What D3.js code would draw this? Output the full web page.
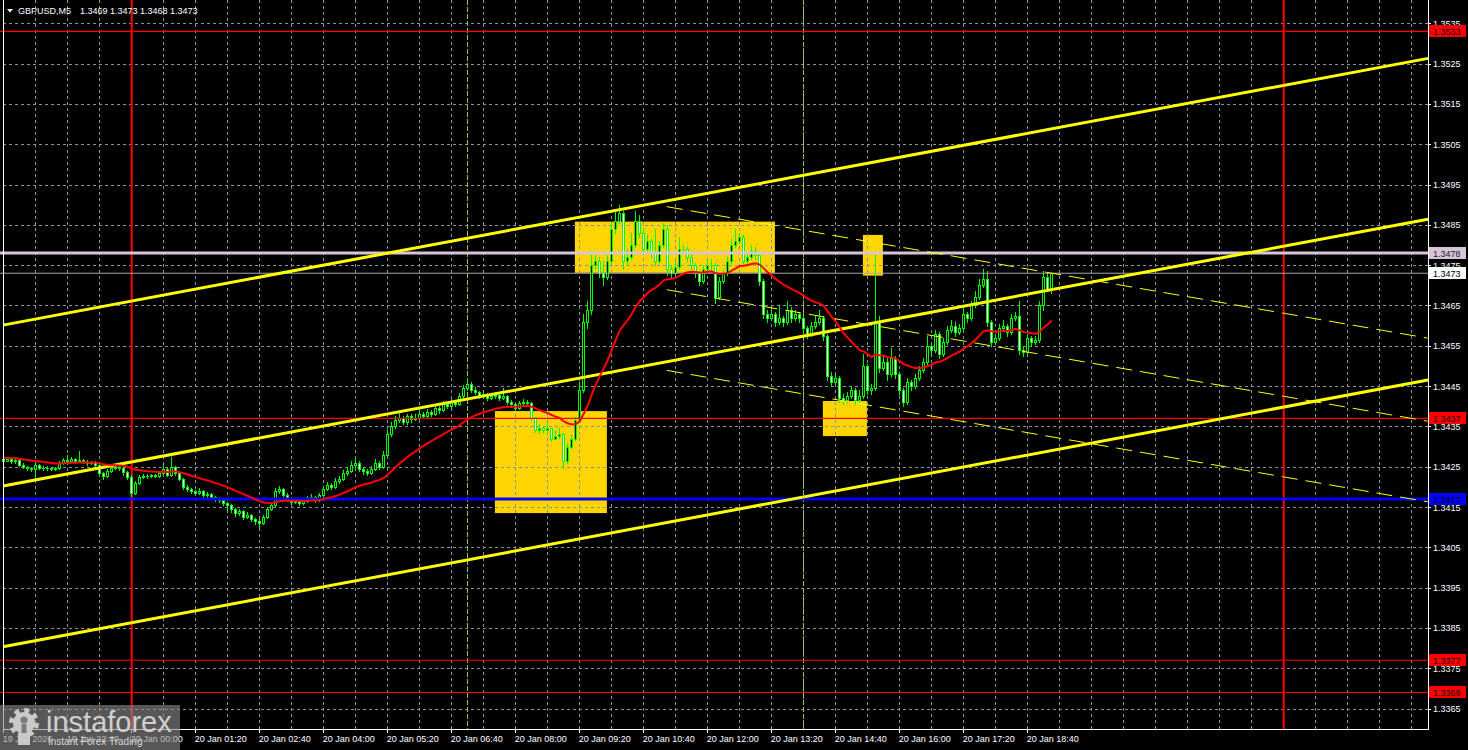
<!DOCTYPE html>
<html><head><meta charset="utf-8">
<script src="https://cdn.jsdelivr.net/npm/d3@7"></script>
<style>html,body{margin:0;padding:0;background:#000;overflow:hidden}svg{display:block}</style>
</head><body>
<svg id="chart" width="1468" height="750"></svg>
<script>
// ---------------- DATA ----------------
const symbolTitle = "GBPUSD,M5";
const titleValues = "1.3469 1.3473 1.3468 1.3473";
const firstBarMinute = -160;   // 19 Jan 21:20, minutes relative to 20 Jan 00:00
const barMinutes = 5;
const firstOpen = 1.34268;
const closes = [
1.34265,1.34268,1.34263,1.34266,1.34255,1.34250,1.34247,1.34245,1.34254,1.34248,1.34246,1.34247,1.34245,1.34246,1.34258,1.34266,1.34264,1.34269,1.34263,1.34267,1.34262,1.34259,1.34261,1.34255,1.34235,1.34228,1.34240,1.34248,1.34250,1.34246,1.34238,1.34225,
1.34185,1.34210,1.34225,1.34228,1.34226,1.34229,1.34227,1.34235,1.34245,1.34230,
1.34250,1.34235,1.34220,1.34200,1.34195,1.34190,1.34185,1.34190,1.34180,1.34183,
1.34175,1.34170,1.34168,1.34160,1.34155,1.34145,1.34135,1.34140,1.34125,1.34130,
1.34120,1.34115,1.34110,1.34125,1.34145,1.34155,1.34190,1.34195,1.34180,1.34170,
1.34162,1.34165,1.34160,1.34165,1.34170,1.34175,1.34168,1.34180,1.34195,1.34205,
1.34200,1.34215,1.34220,1.34235,1.34240,1.34255,1.34260,1.34245,1.34240,1.34235,
1.34245,1.34260,1.34250,1.34280,1.34330,1.34350,1.34365,1.34370,1.34360,1.34375,
1.34368,1.34372,1.34380,1.34375,1.34385,1.34380,1.34395,1.34390,1.34405,1.34400,
1.34410,1.34405,1.34425,1.34445,1.34455,1.34440,1.34435,1.34425,1.34430,1.34420,
1.34425,1.34428,1.34420,1.34425,1.34410,1.34405,1.34395,1.34408,1.34410,1.34407,
1.34370,1.34340,1.34345,1.34340,1.34345,1.34320,1.34325,1.34330,1.34265,1.34300,
1.34320,1.34365,1.34440,1.34610,1.34640,1.34750,1.34760,1.34730,1.34720,1.34760,
1.34840,1.34860,1.34880,1.34760,1.34770,1.34800,1.34860,1.34830,1.34790,1.34810,
1.34780,1.34760,1.34800,1.34840,1.34740,1.34730,1.34745,1.34790,1.34790,1.34770,
1.34750,1.34730,1.34710,1.34740,1.34750,1.34750,1.34670,1.34710,1.34730,1.34760,
1.34800,1.34810,1.34820,1.34760,1.34770,1.34785,1.34775,1.34710,1.34630,1.34620,
1.34630,1.34610,1.34620,1.34610,1.34640,1.34620,1.34630,1.34620,1.34595,1.34580,
1.34600,1.34610,1.34620,1.34575,1.34475,1.34460,1.34470,1.34420,1.34415,1.34425,
1.34440,1.34415,1.34425,1.34500,1.34440,1.34445,1.34610,1.34495,1.34510,1.34480,
1.34520,1.34480,1.34440,1.34410,1.34460,1.34450,1.34470,1.34490,1.34510,1.34550,
1.34540,1.34580,1.34530,1.34560,1.34590,1.34600,1.34585,1.34595,1.34630,1.34620,
1.34650,1.34670,1.34700,1.34715,1.34610,1.34560,1.34570,1.34595,1.34600,1.34585,
1.34620,1.34625,1.34540,1.34535,1.34570,1.34560,1.34565,1.34650,1.34720,1.34690,
1.34730];
const highs = [
1.34273,1.34275,1.34270,1.34272,1.34268,1.34258,1.34253,1.34250,1.34259,1.34256,1.34252,1.34251,1.34250,1.34250,1.34263,1.34272,1.34280,1.34275,1.34272,1.34290,1.34270,1.34266,1.34265,1.34264,1.34258,1.34238,1.34245,1.34253,1.34256,1.34253,1.34249,1.34240,
1.34230,1.34215,1.34230,1.34232,1.34231,1.34233,1.34232,1.34240,1.34258,1.34248,
1.34275,1.34253,1.34238,1.34223,1.34205,1.34198,1.34193,1.34196,1.34192,1.34188,
1.34186,1.34178,1.34174,1.34170,1.34163,1.34158,1.34148,1.34146,1.34142,1.34138,
1.34133,1.34124,1.34120,1.34130,1.34150,1.34162,1.34198,1.34203,1.34198,1.34184,
1.34175,1.34173,1.34170,1.34172,1.34178,1.34183,1.34178,1.34186,1.34202,1.34213,
1.34210,1.34222,1.34228,1.34243,1.34250,1.34263,1.34275,1.34263,1.34250,1.34245,
1.34252,1.34268,1.34264,1.34288,1.34340,1.34362,1.34375,1.34388,1.34375,1.34382,
1.34380,1.34380,1.34394,1.34386,1.34392,1.34390,1.34402,1.34400,1.34412,1.34410,
1.34418,1.34414,1.34432,1.34453,1.34470,1.34460,1.34448,1.34438,1.34436,1.34433,
1.34430,1.34435,1.34430,1.34445,1.34428,1.34415,1.34408,1.34412,1.34418,1.34415,
1.34410,1.34373,1.34355,1.34349,1.34358,1.34346,1.34338,1.34345,1.34333,1.34310,
1.34328,1.34374,1.34460,1.34630,1.34660,1.34780,1.34775,1.34770,1.34760,1.34775,
1.34855,1.34890,1.34900,1.34885,1.34790,1.34830,1.34885,1.34875,1.34840,1.34825,
1.34815,1.34840,1.34810,1.34855,1.34850,1.34750,1.34760,1.34820,1.34800,1.34795,
1.34775,1.34755,1.34735,1.34750,1.34760,1.34765,1.34755,1.34720,1.34740,1.34770,
1.34815,1.34840,1.34830,1.34825,1.34780,1.34800,1.34795,1.34780,1.34715,1.34640,
1.34645,1.34635,1.34650,1.34625,1.34660,1.34645,1.34640,1.34635,1.34625,1.34600,
1.34610,1.34625,1.34640,1.34625,1.34580,1.34485,1.34480,1.34475,1.34430,1.34435,
1.34450,1.34445,1.34440,1.34530,1.34505,1.34455,1.34780,1.34625,1.34525,1.34520,
1.34545,1.34525,1.34485,1.34445,1.34470,1.34465,1.34480,1.34500,1.34520,1.34575,
1.34560,1.34590,1.34585,1.34570,1.34600,1.34615,1.34610,1.34605,1.34645,1.34635,
1.34660,1.34685,1.34715,1.34740,1.34735,1.34615,1.34580,1.34605,1.34615,1.34605,
1.34630,1.34635,1.34660,1.34550,1.34580,1.34575,1.34575,1.34660,1.34735,1.34730,
1.34730];
const lows = [
1.34262,1.34263,1.34260,1.34260,1.34252,1.34246,1.34243,1.34240,1.34220,1.34244,1.34242,1.34243,1.34241,1.34242,1.34244,1.34256,1.34260,1.34262,1.34260,1.34261,1.34258,1.34255,1.34256,1.34252,1.34228,1.34220,1.34225,1.34238,1.34245,1.34242,1.34230,1.34220,
1.34178,1.34182,1.34208,1.34222,1.34223,1.34224,1.34224,1.34225,1.34233,1.34226,
1.34228,1.34230,1.34216,1.34195,1.34190,1.34185,1.34180,1.34182,1.34176,1.34175,
1.34170,1.34165,1.34162,1.34154,1.34145,1.34138,1.34128,1.34130,1.34120,1.34122,
1.34115,1.34108,1.34100,1.34108,1.34122,1.34142,1.34152,1.34186,1.34175,1.34165,
1.34158,1.34159,1.34155,1.34157,1.34162,1.34168,1.34163,1.34165,1.34176,1.34192,
1.34195,1.34196,1.34210,1.34216,1.34230,1.34236,1.34250,1.34240,1.34232,1.34230,
1.34232,1.34242,1.34245,1.34248,1.34276,1.34325,1.34346,1.34360,1.34355,1.34356,
1.34362,1.34365,1.34368,1.34370,1.34372,1.34375,1.34378,1.34384,1.34388,1.34395,
1.34396,1.34400,1.34403,1.34420,1.34440,1.34435,1.34430,1.34420,1.34422,1.34416,
1.34418,1.34420,1.34415,1.34418,1.34406,1.34398,1.34390,1.34392,1.34404,1.34402,
1.34365,1.34335,1.34336,1.34335,1.34332,1.34314,1.34318,1.34322,1.34248,1.34260,
1.34296,1.34316,1.34360,1.34435,1.34595,1.34630,1.34740,1.34720,1.34700,1.34715,
1.34755,1.34830,1.34855,1.34740,1.34750,1.34765,1.34795,1.34820,1.34780,1.34785,
1.34770,1.34750,1.34755,1.34795,1.34725,1.34720,1.34725,1.34740,1.34780,1.34760,
1.34740,1.34720,1.34700,1.34705,1.34735,1.34740,1.34655,1.34665,1.34705,1.34725,
1.34755,1.34795,1.34805,1.34750,1.34755,1.34765,1.34765,1.34700,1.34620,1.34610,
1.34615,1.34600,1.34605,1.34600,1.34605,1.34610,1.34615,1.34610,1.34585,1.34570,
1.34575,1.34595,1.34605,1.34565,1.34465,1.34450,1.34455,1.34410,1.34405,1.34410,
1.34420,1.34405,1.34410,1.34420,1.34430,1.34430,1.34440,1.34485,1.34490,1.34465,
1.34475,1.34470,1.34430,1.34400,1.34405,1.34440,1.34445,1.34465,1.34485,1.34505,
1.34530,1.34535,1.34520,1.34525,1.34555,1.34585,1.34575,1.34580,1.34590,1.34610,
1.34615,1.34645,1.34665,1.34695,1.34600,1.34550,1.34555,1.34565,1.34590,1.34575,
1.34580,1.34615,1.34530,1.34525,1.34530,1.34550,1.34555,1.34560,1.34640,1.34685,
1.34680];

const maPeriod = 25;
const maSeed = 1.34273;

const yTickValues = [1.3365,1.3375,1.3385,1.3395,1.3405,1.3415,1.3425,1.3435,1.3445,1.3455,1.3465,1.3475,1.3485,1.3495,1.3505,1.3515,1.3525,1.3535];
const xTickMinutes = [-160,-80,0,80,160,240,320,400,480,560,640,720,800,880,960,1040,1120];
const xTickLabels = ["19 Jan 2026","19 Jan 22:40","20 Jan 00:00","20 Jan 01:20","20 Jan 02:40","20 Jan 04:00","20 Jan 05:20","20 Jan 06:40","20 Jan 08:00","20 Jan 09:20","20 Jan 10:40","20 Jan 12:00","20 Jan 13:20","20 Jan 14:40","20 Jan 16:00","20 Jan 17:20","20 Jan 18:40"];

const levelValues = [1.3533, 1.3478, 1.3473, 1.3437, 1.3417, 1.3377, 1.3369];
const levelLabels = ["1.3533","1.3478","1.3473","1.3437","1.3417","1.3377","1.3369"];
const levelKinds  = ["red","target","bid","red","blue","red","red"];

const dayLineMinutes = [0, 1440];
const sessionLineMinutes = [420, 840];

// boxes: start minute, end minute, top price, bottom price
const boxStart = [454, 554, 914, 864];
const boxEnd   = [594, 804, 939, 919];
const boxTop   = [1.34388, 1.34858, 1.34825, 1.34413];
const boxBottom= [1.34135, 1.34731, 1.34724, 1.34326];

// channel lines (rays both ways): price at minute 0 and minute 1440
const channelAt0    = [1.34661, 1.34262, 1.33863];
const channelAt1440 = [1.35196, 1.34797, 1.34398];
// descending dashed lines: from minute 669 to minute 1620
const dashStartMin = 669, dashEndMin = 1620;
const dashStartPrice = [1.34895, 1.34689, 1.34489];
const dashEndPrice   = [1.34569, 1.34363, 1.34163];

// ---------------- CHART ----------------
const svg = d3.select("#chart");
const W = 1468, H = 750;
const L = 3, R = 1428, B = 729, T = 0;
const x = d3.scaleLinear().domain([0, 1440]).range([131.7, 1283.7]);
const y = d3.scaleLinear().domain([1.3365, 1.3525]).range([708.6, 63.6]);
const FONT = "'Liberation Sans', Arial, sans-serif";

svg.append("rect").attr("width", W).attr("height", H).attr("fill", "#000");

const bars = closes.map((c, i) => ({
  t: firstBarMinute + i * barMinutes,
  o: i === 0 ? firstOpen : closes[i - 1],
  h: highs[i], l: lows[i], c: c
}));

// yellow boxes
const boxes = boxStart.map((s, i) => ({s, e: boxEnd[i], top: boxTop[i], bot: boxBottom[i]}));
svg.append("g").selectAll("rect").data(boxes).join("rect")
  .attr("x", d => x(d.s)).attr("width", d => x(d.e) - x(d.s))
  .attr("y", d => y(d.top)).attr("height", d => y(d.bot) - y(d.top))
  .attr("fill", "#FFD500");

// grid
const grid = svg.append("g").attr("stroke", "#8a919c").attr("stroke-width", 1)
  .attr("stroke-dasharray", "3,3").attr("shape-rendering", "crispEdges");
const vGrid = d3.range(-160, 1620, 40);
grid.selectAll(".vg").data(vGrid).join("line")
  .attr("x1", d => Math.floor(x(d)) + 0.5).attr("x2", d => Math.floor(x(d)) + 0.5)
  .attr("y1", T).attr("y2", B);
grid.selectAll(".hg").data(yTickValues).join("line")
  .attr("x1", L).attr("x2", R)
  .attr("y1", d => Math.round(y(d)) + 0.5).attr("y2", d => Math.round(y(d)) + 0.5);

// vertical day & session lines
svg.append("g").selectAll("line").data(sessionLineMinutes).join("line")
  .attr("x1", d => Math.floor(x(d)) + 0.5).attr("x2", d => Math.floor(x(d)) + 0.5)
  .attr("y1", T).attr("y2", B).attr("stroke", "#9ACD32").attr("stroke-width", 1)
  .attr("stroke-dasharray", "5,2");
svg.append("g").selectAll("line").data(dayLineMinutes).join("line")
  .attr("x1", d => x(d)).attr("x2", d => x(d))
  .attr("y1", T).attr("y2", B).attr("stroke", "#FF0000").attr("stroke-width", 2);

// candles
const cg = svg.append("g").attr("shape-rendering", "crispEdges");
bars.forEach(d => {
  const cx = Math.floor(x(d.t));
  cg.append("line").attr("x1", cx + 0.5).attr("x2", cx + 0.5)
    .attr("y1", Math.round(y(d.h))).attr("y2", Math.round(y(d.l)) + 1)
    .attr("stroke", "#00FF00");
  const top = Math.round(y(Math.max(d.o, d.c)));
  const bot = Math.round(y(Math.min(d.o, d.c)));
  if (bot - top < 1) {
    cg.append("rect").attr("x", cx - 1).attr("y", top).attr("width", 3).attr("height", 1).attr("fill", "#00FF00");
  } else {
    cg.append("rect").attr("x", cx - 0.5).attr("y", top + 0.5).attr("width", 2).attr("height", bot - top)
      .attr("fill", d.c > d.o ? "#000" : "#FFFFFF").attr("stroke", "#00FF00").attr("stroke-width", 1);
  }
});

// horizontal levels
const levels = levelValues.map((v, i) => ({v, label: levelLabels[i], kind: levelKinds[i]}));
const lvlStyle = {
  red:    {stroke: "#FF0000", w: 1.2, box: "#FF0000", text: "#1a0000"},
  target: {stroke: "#D8C4D8", w: 3,   box: "#D8C4D8", text: "#222"},
  bid:    {stroke: "#A8A8B0", w: 1,   box: "#FFFFFF", text: "#000"},
  blue:   {stroke: "#0000FF", w: 3,   box: "#0000FF", text: "#000"}
};
svg.append("g").selectAll("line").data(levels).join("line")
  .attr("x1", 0).attr("x2", R).attr("y1", d => y(d.v)).attr("y2", d => y(d.v))
  .attr("stroke", d => lvlStyle[d.kind].stroke).attr("stroke-width", d => lvlStyle[d.kind].w);

// channel lines
const chG = svg.append("g");
channelAt0.forEach((p0, i) => {
  const p1 = channelAt1440[i];
  const pr = t => p0 + (p1 - p0) * t / 1440;
  const tA = x.invert(L), tB = x.invert(R);
  chG.append("line").attr("x1", L).attr("x2", R).attr("y1", y(pr(tA))).attr("y2", y(pr(tB)))
    .attr("stroke", "#FFFF00").attr("stroke-width", 3);
});
dashStartPrice.forEach((p0, i) => {
  chG.append("line").attr("x1", x(dashStartMin)).attr("x2", Math.min(R, x(dashEndMin)))
    .attr("y1", y(p0)).attr("y2", y(dashEndPrice[i]))
    .attr("stroke", "#FFFF00").attr("stroke-width", 1).attr("stroke-dasharray", "16,8");
});

// moving average (EMA)
const k = 2 / (maPeriod + 1);
let ema = maSeed;
const maPts = bars.map(d => { ema = d.c * k + ema * (1 - k); return [x(d.t), y(ema)]; });
svg.append("path").attr("d", d3.line()(maPts)).attr("fill", "none")
  .attr("stroke", "#FF0000").attr("stroke-width", 2);

// frame
svg.append("path").attr("d", `M${L + 0.5},${T} V${B + 0.5} H${R + 0.5} V${T}`)
  .attr("fill", "none").attr("stroke", "#FFFFFF").attr("stroke-width", 1).attr("shape-rendering", "crispEdges");

// y axis labels
const ya = svg.append("g").attr("font-family", FONT).attr("font-size", 9).attr("fill", "#FFFFFF");
yTickValues.forEach(v => {
  ya.append("line").attr("x1", R).attr("x2", R + 3).attr("y1", Math.round(y(v)) + 0.5).attr("y2", Math.round(y(v)) + 0.5)
    .attr("stroke", "#fff").attr("shape-rendering", "crispEdges");
  ya.append("text").attr("x", 1433).attr("y", y(v) + 3.5).text(v.toFixed(4));
});

// level label boxes
const lb = svg.append("g").attr("font-family", FONT).attr("font-size", 9);
levels.forEach(d => {
  const yy = Math.round(y(d.v));
  lb.append("rect").attr("x", 1429).attr("y", yy - 6).attr("width", 37).attr("height", 12)
    .attr("fill", lvlStyle[d.kind].box);
  lb.append("text").attr("x", 1433).attr("y", yy + 3.5).attr("fill", lvlStyle[d.kind].text).text(d.label);
});

// x axis labels
const xa = svg.append("g").attr("font-family", FONT).attr("font-size", 9).attr("fill", "#FFFFFF");
xTickMinutes.forEach((m, i) => {
  const xx = Math.floor(x(m)) + 0.5;
  xa.append("line").attr("x1", xx).attr("x2", xx).attr("y1", B).attr("y2", B + 4).attr("stroke", "#fff")
    .attr("shape-rendering", "crispEdges");
  xa.append("text").attr("x", x(m) - 1).attr("y", 742).text(xTickLabels[i]);
});

// title
svg.append("path").attr("d", "M7,9 L13,9 L10,12.5 Z").attr("fill", "#fff");
svg.append("text").attr("x", 18).attr("y", 13.5).attr("font-family", FONT).attr("font-size", 9)
  .attr("fill", "#fff").text(symbolTitle);
svg.append("text").attr("x", 80).attr("y", 13.5).attr("font-family", FONT).attr("font-size", 9)
  .attr("fill", "#fff").text(titleValues);

// watermark logo
const lg = svg.append("g");
lg.append("rect").attr("x", 0).attr("y", 705).attr("width", 180).attr("height", 45)
  .attr("fill", "rgba(140,140,140,0.62)");
const gear = lg.append("g").attr("transform", "translate(24,723)");
gear.append("circle").attr("r", 12).attr("fill", "none").attr("stroke", "#c9c9c9").attr("stroke-width", 6)
  .attr("stroke-dasharray", "4.7,4.7");
gear.append("circle").attr("r", 11).attr("fill", "#c9c9c9");
gear.append("circle").attr("r", 3.6).attr("cy", -3).attr("fill", "#7a7a7a");
gear.append("rect").attr("x", -2.5).attr("y", 1).attr("width", 5).attr("height", 20).attr("fill", "#7a7a7a");
gear.append("rect").attr("x", -6).attr("y", 10).attr("width", 12).attr("height", 12).attr("fill", "#c9c9c9");
lg.append("text").attr("x", 46).attr("y", 732).attr("font-family", FONT).attr("font-size", 29)
  .attr("fill", "#cfcfcf").text("instaforex");
lg.append("text").attr("x", 48).attr("y", 745).attr("font-family", FONT).attr("font-size", 10)
  .attr("fill", "#d8d8d8").text("Instant Forex Trading");
</script>
</body></html>
